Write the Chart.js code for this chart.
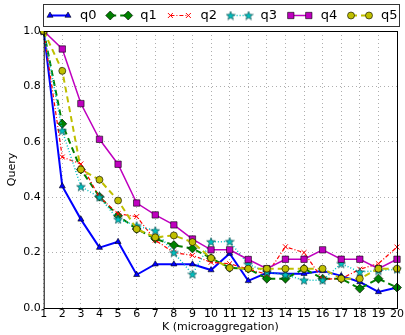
<!DOCTYPE html>
<html>
<head>
<meta charset="utf-8">
<script src="https://cdn.jsdelivr.net/npm/chart.js@4"></script>
<style>
  body { margin: 0; background: #fff; }
  #wrap { width: 405px; height: 335px; }
</style>
</head>
<body>
<div id="wrap"><canvas id="mycanvas"></canvas></div>
<script>
// K values on the x axis
var kValues = ['1','2','3','4','5','6','7','8','9','10','11','12','13','14','15','16','17','18','19','20'];
var yTicks = [0.0, 0.2, 0.4, 0.6, 0.8, 1.0];
var seriesNames = ['q0', 'q1', 'q2', 'q3', 'q4', 'q5'];

var q0 = [1.0, 0.44, 0.32, 0.218, 0.239, 0.12, 0.158, 0.158, 0.158, 0.137, 0.197, 0.098, 0.127, 0.124, 0.124, 0.134, 0.116, 0.094, 0.058, 0.074];
var q1 = [1.0, 0.665, 0.5, 0.402, 0.333, 0.285, 0.25, 0.227, 0.215, 0.18, 0.145, 0.142, 0.106, 0.106, 0.142, 0.106, 0.106, 0.07, 0.106, 0.074];
var q2 = [1.0, 0.545, 0.52, 0.40, 0.34, 0.33, 0.245, 0.2, 0.19, 0.165, 0.16, 0.14, 0.122, 0.221, 0.2, 0.104, 0.106, 0.14, 0.16, 0.22];
var q3 = [1.0, 0.64, 0.438, 0.40, 0.32, 0.297, 0.279, 0.2, 0.122, 0.239, 0.24, 0.158, 0.13, 0.12, 0.10, 0.10, 0.16, 0.13, 0.135, 0.14];
var q4 = [1.0, 0.935, 0.738, 0.609, 0.519, 0.379, 0.336, 0.30, 0.249, 0.21, 0.21, 0.175, 0.142, 0.176, 0.176, 0.21, 0.176, 0.176, 0.142, 0.176];
var q5 = [1.0, 0.856, 0.5, 0.463, 0.388, 0.285, 0.255, 0.262, 0.238, 0.18, 0.145, 0.142, 0.142, 0.142, 0.142, 0.142, 0.106, 0.106, 0.142, 0.142];

var allData = [q0, q1, q2, q3, q4, q5];
var colors = ['#0000ff', '#008000', '#ff0000', '#00bfbf', '#bf00bf', '#bfbf00'];
var dashes = [[], [6, 4], [4, 2, 1, 2], [1, 2], [], [6, 4]];
var widths = [2, 2, 1.2, 1.5, 1.5, 2];
var radii = [3.5, 4.5, 3.5, 4.5, 4.5, 3.5];

// filled star marker like matplotlib '*'
function makeStar(color) {
  var c = document.createElement('canvas');
  c.width = 10; c.height = 10;
  var g = c.getContext('2d');
  g.beginPath();
  for (var i = 0; i < 10; i++) {
    var r = (i % 2 == 0) ? 4.6 : 1.9;
    var ang = -Math.PI / 2 + i * Math.PI / 5;
    var px = 5 + r * Math.cos(ang), py = 5.4 + r * Math.sin(ang);
    if (i == 0) g.moveTo(px, py); else g.lineTo(px, py);
  }
  g.closePath();
  g.fillStyle = color;
  g.fill();
  g.strokeStyle = '#004040';
  g.lineWidth = 0.6;
  g.stroke();
  return c;
}
var markers = ['triangle', 'rectRot', 'crossRot', makeStar('#00bfbf'), 'rect', 'circle'];

var datasets = [];
for (var i = 0; i < allData.length; i++) {
  var filled = (markers[i] != 'crossRot');
  datasets.push({
    label: seriesNames[i],
    data: allData[i],
    borderColor: colors[i],
    backgroundColor: colors[i],
    borderWidth: widths[i],
    borderDash: dashes[i],
    pointStyle: markers[i],
    pointRadius: radii[i],
    pointBackgroundColor: colors[i],
    pointBorderColor: filled ? '#000000' : colors[i],
    pointBorderWidth: filled ? 0.6 : 1,
    tension: 0,
    fill: false,
    order: allData.length - i
  });
}

// matplotlib style frame + legend box drawn on top
var framePlugin = {
  id: 'frame',
  afterDraw: function(chart) {
    var ctx = chart.ctx;
    var a = chart.chartArea;
    ctx.save();
    ctx.strokeStyle = '#000';
    ctx.lineWidth = 1;
    ctx.strokeRect(a.left + 0.5, a.top + 0.5, a.right - a.left, a.bottom - a.top);

    // legend
    ctx.fillStyle = '#fff';
    ctx.fillRect(43, 4, 356, 22);
    ctx.strokeStyle = '#333';
    ctx.strokeRect(43.5, 4.5, 356, 22);
    ctx.font = '13px "DejaVu Sans"';
    ctx.textBaseline = 'middle';
    for (var i = 0; i < datasets.length; i++) {
      var ds = datasets[i];
      var x0 = 50 + i * 60.2;
      var x1 = x0 + 18;
      var y = 15.5;
      ctx.strokeStyle = ds.borderColor;
      ctx.lineWidth = ds.borderWidth;
      ctx.setLineDash(ds.borderDash);
      ctx.beginPath();
      ctx.moveTo(x0, y);
      ctx.lineTo(x1, y);
      ctx.stroke();
      ctx.setLineDash([]);
      var opts = {
        pointStyle: ds.pointStyle,
        radius: ds.pointRadius,
        rotation: 0,
        borderWidth: ds.pointBorderWidth
      };
      ctx.fillStyle = ds.pointBackgroundColor;
      ctx.strokeStyle = ds.pointBorderColor;
      ctx.lineWidth = ds.pointBorderWidth;
      Chart.helpers.drawPoint(ctx, opts, x0, y);
      ctx.fillStyle = ds.pointBackgroundColor;
      ctx.strokeStyle = ds.pointBorderColor;
      Chart.helpers.drawPoint(ctx, opts, x1, y);
      ctx.fillStyle = '#000';
      ctx.fillText(ds.label, x0 + 30, y);
    }
    ctx.restore();
  }
};

var ctx = document.getElementById('mycanvas');
var LineGraph = new Chart(ctx, {
  type: 'line',
  data: { labels: kValues, datasets: datasets },
  options: {
    responsive: true,
    maintainAspectRatio: false,
    animation: false,
    layout: { padding: { top: 31, right: 5, left: 6, bottom: 2 } },
    plugins: {
      legend: { display: false },
      tooltip: { enabled: false }
    },
    scales: {
      x: {
        offset: false,
        title: { display: true, text: 'K (microaggregation)', color: '#000', font: { family: 'DejaVu Sans', size: 11, lineHeight: 1 }, padding: { top: 1, bottom: 0 } },
        ticks: { color: '#000', font: { family: 'DejaVu Sans', size: 11, lineHeight: 1 }, maxRotation: 0, autoSkip: false, padding: 1 },
        grid: { color: '#999', lineWidth: 0.8, drawTicks: false },
        border: { dash: [1, 3], display: false }
      },
      y: {
        min: 0,
        max: 1,
        afterBuildTicks: function(axis) {
          axis.ticks = yTicks.map(function(v) { return { value: v }; });
        },
        title: { display: true, text: 'Query', color: '#000', font: { family: 'DejaVu Sans', size: 11 }, padding: { top: 0, bottom: 1 } },
        ticks: {
          color: '#000', font: { family: 'DejaVu Sans', size: 11 }, padding: 3,
          callback: function(v) { return Number(v).toFixed(1); }
        },
        grid: { color: '#999', lineWidth: 0.8, drawTicks: false },
        border: { dash: [1, 3], display: false }
      }
    }
  },
  plugins: [framePlugin]
});
</script>
</body>
</html>
